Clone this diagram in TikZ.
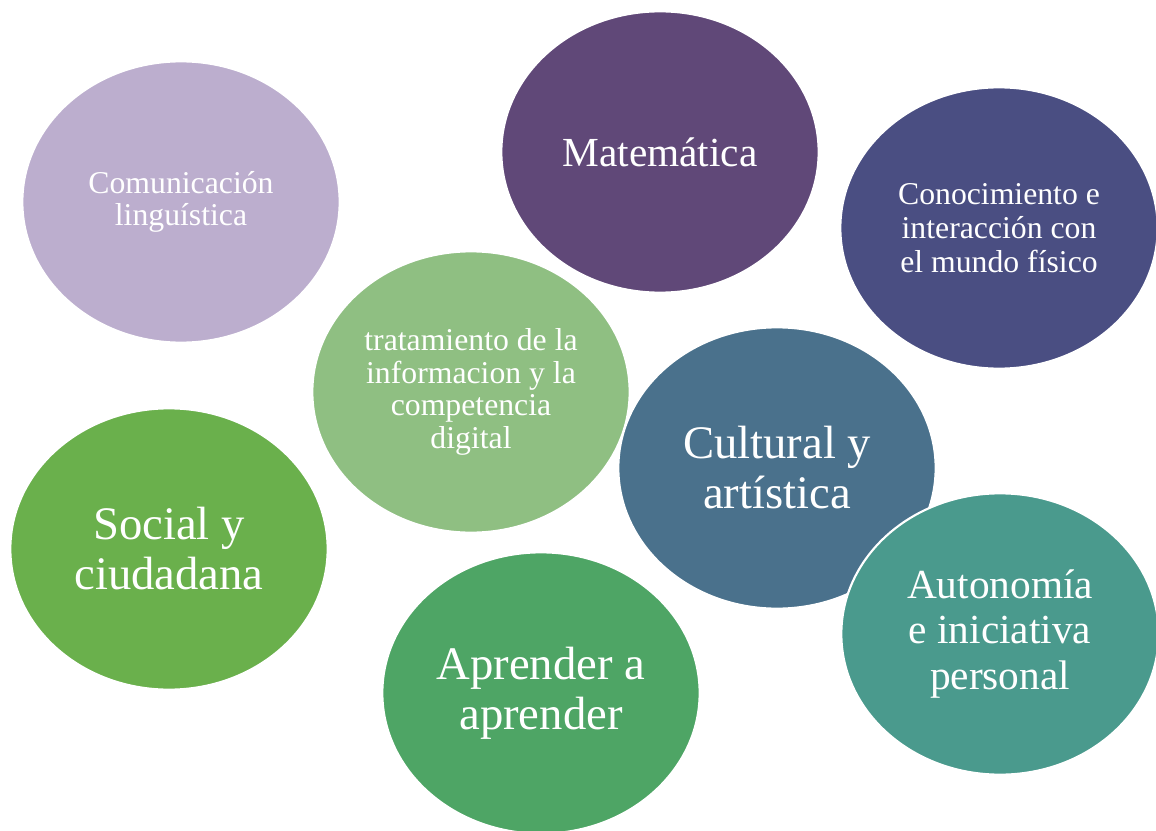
\documentclass[tikz,border=0pt]{standalone}
\usepackage{fontspec}
\setmainfont{Liberation Serif}
\usetikzlibrary{shapes.geometric}

\definecolor{comcol}{HTML}{BCAECE}
\definecolor{matcol}{HTML}{604878}
\definecolor{concol}{HTML}{4A4E82}
\definecolor{tracol}{HTML}{8FBF82}
\definecolor{culcol}{HTML}{4A718C}
\definecolor{soccol}{HTML}{6AB04C}
\definecolor{aprcol}{HTML}{4EA565}
\definecolor{autcol}{HTML}{4A9A8D}

\tikzset{
    bubble/.style={ellipse, draw=white, line width=1.6pt, inner sep=0pt,
        minimum width=238pt, minimum height=211pt, text=white, align=center},
    smalltxt/.style={font=\fontsize{23.8}{24.5}\selectfont},
    midtxt/.style={font=\fontsize{31}{34}\selectfont},
    bigtxt/.style={font=\fontsize{35}{37.5}\selectfont}
}

\begin{document}
\begin{tikzpicture}[x=0.75pt, y=-0.75pt]
    % frame of the picture, in pixels of the reference
    \useasboundingbox (0,0) rectangle (1156,831);

    % upper row
    \node[bubble, fill=comcol, smalltxt] (com) at (181,202) {Comunicación\\linguística};
    \node[bubble, fill=matcol, midtxt] (mat) at (660,152) {Matemática};
    \node[bubble, fill=concol, font=\fontsize{23.8}{25.5}\selectfont] (con) at (999,228)
        {Conocimiento e\\interacción con\\el mundo físico};

    % middle row
    \node[bubble, fill=tracol, smalltxt] (tra) at (471,392)
        {tratamiento de la\\informacion y la\\competencia\\digital};
    \node[bubble, fill=soccol, bigtxt] (soc) at (169,549) {Social y\\ciudadana};
    \node[bubble, fill=culcol, bigtxt] (cul) at (777,468) {Cultural y\\artística};

    % lower row
    \node[bubble, fill=aprcol, bigtxt] (apr) at (541,693) {Aprender a\\aprender};
    \node[bubble, fill=autcol, midtxt] (aut) at (1000,634) {Autonomía\\e iniciativa\\personal};
\end{tikzpicture}
\end{document}
